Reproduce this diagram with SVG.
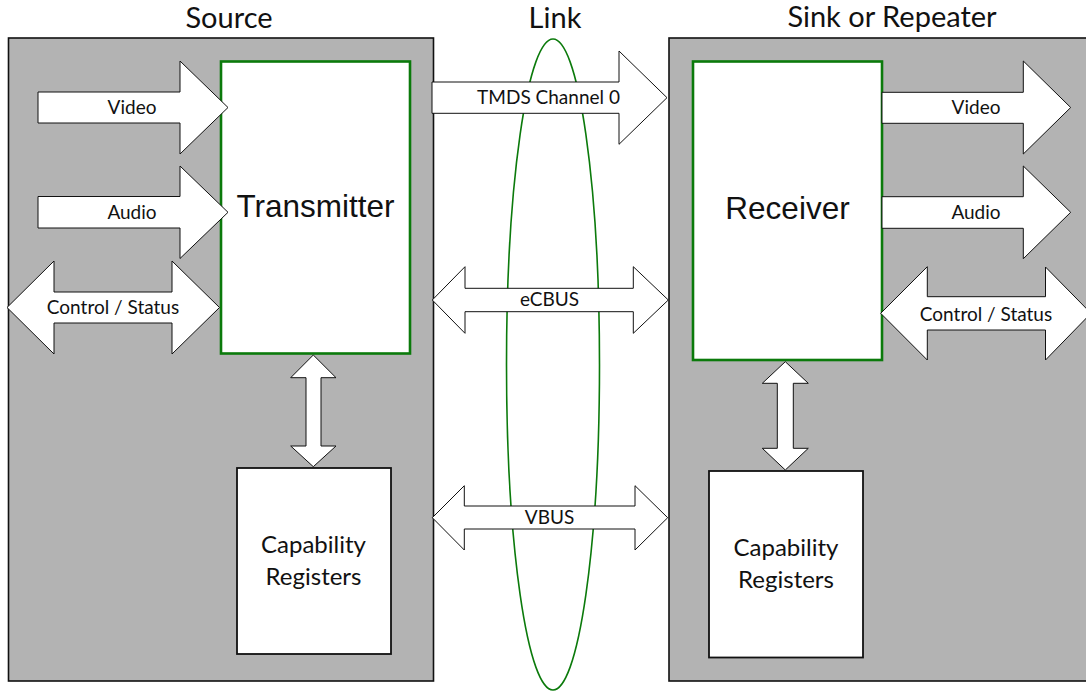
<svg xmlns="http://www.w3.org/2000/svg" width="1086" height="691" viewBox="0 0 1086 691">
<style>
.panel{fill:#b3b3b3;stroke:#111;stroke-width:1.6}
.chip{fill:#fff;stroke:#0b7a0b;stroke-width:2.6}
.reg{fill:#fff;stroke:#111;stroke-width:1.8}
.arrow{fill:#fff;stroke:#111;stroke-width:1}
.link{fill:none;stroke:#0b7a0b;stroke-width:1.6}
.title{font-family:Lato,"Liberation Sans",sans-serif;font-size:29px;fill:#111;text-anchor:middle}
.lbl{font-family:Lato,"Liberation Sans",sans-serif;font-size:19px;fill:#111;text-anchor:middle}
.big{font-family:"Liberation Sans",Arial,sans-serif;font-size:31.5px;fill:#111;text-anchor:middle}
.cap{font-family:Lato,"Liberation Sans",sans-serif;font-size:24px;fill:#111;text-anchor:middle}
</style>
<rect width="1086" height="691" fill="#fff"/>
<g id="source">
<rect class="panel" x="8.5" y="38" width="425" height="643"/>
<text class="title" x="229" y="28">Source</text>
</g>
<g id="sink">
<rect class="panel" x="669" y="38" width="430" height="643"/>
<text class="title" x="892" y="27">Sink or Repeater</text>
</g>
<g id="link">
<ellipse class="link" cx="553" cy="364.5" rx="46.5" ry="325.5"/>
<text class="title" x="555" y="28">Link</text>
</g>
<g id="transmitter">
<rect class="chip" x="221" y="61.5" width="189" height="292"/>
<text class="big" x="315.5" y="217">Transmitter</text>
</g>
<g id="receiver">
<rect class="chip" x="693" y="61.5" width="189" height="298.5"/>
<text class="big" x="787.5" y="219">Receiver</text>
</g>
<g id="src-registers">
<rect class="reg" x="237" y="468" width="154" height="186"/>
<text class="cap" x="313.5" y="553">Capability</text>
<text class="cap" x="313.5" y="585">Registers</text>
</g>
<g id="snk-registers">
<rect class="reg" x="709" y="471" width="154" height="186.5"/>
<text class="cap" x="786" y="556">Capability</text>
<text class="cap" x="786" y="587.5">Registers</text>
</g>
<g id="connectors">
<polygon class="arrow" points="38,92 180,92 180,61 228,107.5 180,154 180,123 38,123"/>
<text class="lbl" x="132" y="114">Video</text>
<polygon class="arrow" points="38,196.5 180,196.5 180,166 228,212.3 180,258.5 180,228 38,228"/>
<text class="lbl" x="132" y="219">Audio</text>
<polygon class="arrow" points="7,307.5 54,261 54,292 172,292 172,261 219.5,307.5 172,354 172,323 54,323 54,354"/>
<text class="lbl" x="113" y="314">Control / Status</text>
<polygon class="arrow" points="313.3,355 336,377.7 321,377.7 321,446 336,446 313.3,466.7 290.7,446 306,446 306,377.7 290.7,377.7"/>
<polygon class="arrow" points="432,82 619,82 619,51 667,97.7 619,144.3 619,113.3 432,113.3"/>
<text class="lbl" x="548.5" y="104">TMDS Channel 0</text>
<polygon class="arrow" points="432.3,300 465,266.7 465,288.3 633.3,288.3 633.3,266.7 668.3,300 633.3,333.3 633.3,311.7 465,311.7 465,333.3"/>
<text class="lbl" x="549.5" y="306">eCBUS</text>
<polygon class="arrow" points="432.3,517.7 464.3,485.7 464.3,506 635,506 635,485.7 667.7,517.7 635,550 635,529 464.3,529 464.3,550"/>
<text class="lbl" x="549.5" y="523.5">VBUS</text>
<polygon class="arrow" points="882,92.3 1023.3,92.3 1023.3,61 1070.7,107.5 1023.3,154 1023.3,123.3 882,123.3"/>
<text class="lbl" x="976" y="114">Video</text>
<polygon class="arrow" points="882,196.7 1023.3,196.7 1023.3,166 1070.7,212.3 1023.3,258.7 1023.3,228.3 882,228.3"/>
<text class="lbl" x="976" y="219">Audio</text>
<polygon class="arrow" points="880.7,313.3 927.3,266.7 927.3,296.7 1045.5,296.7 1045.5,267 1091,313.3 1045.5,360 1045.5,330 927.3,330 927.3,360"/>
<text class="lbl" x="986" y="320.5">Control / Status</text>
<polygon class="arrow" points="785.3,361.7 808.3,383.3 793.3,383.3 793.3,448.3 808.3,448.3 785.3,470 762.3,448.3 777.3,448.3 777.3,383.3 762.3,383.3"/>
</g>
</svg>
